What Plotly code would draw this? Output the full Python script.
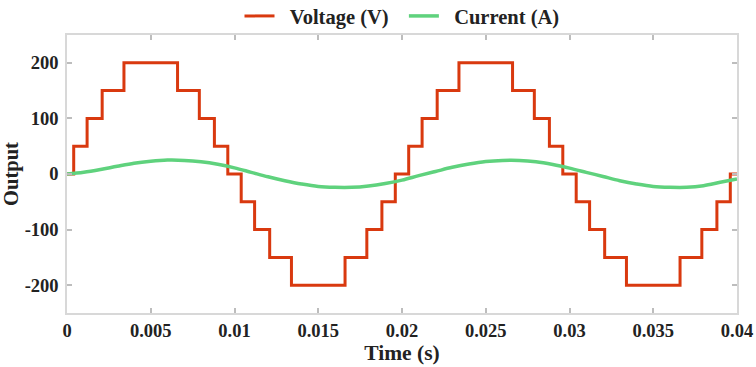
import plotly.graph_objects as go

# Voltage staircase: transition times (s) and levels (V)
volt_time = [0, 0.0004, 0.0012, 0.0021, 0.0034, 0.0066, 0.0079, 0.0088, 0.0096,
             0.0104, 0.0112, 0.0121, 0.0134, 0.0166, 0.0179, 0.0188, 0.0196,
             0.0204, 0.0212, 0.0221, 0.0234, 0.0266, 0.0279, 0.0288, 0.0296,
             0.0304, 0.0312, 0.0321, 0.0334, 0.0366, 0.0379, 0.0388, 0.0396, 0.04]
volt_level = [0, 50, 100, 150, 200, 150, 100, 50, 0,
              -50, -100, -150, -200, -150, -100, -50, 0,
              50, 100, 150, 200, 150, 100, 50, 0,
              -50, -100, -150, -200, -150, -100, -50, 0, 0]

# Current samples (A), read every 1 ms
curr_time = [i / 1000 for i in range(41)]
curr_value = [0, 3, 8, 14, 19.5, 23, 25, 24.5, 22, 17.5, 11,
              3, -5, -12, -18, -22.5, -24, -24, -21.5, -17, -11,
              -3, 4.5, 12, 18, 22.5, 24.5, 24.5, 22, 17, 10.5,
              3, -4.5, -12, -18, -22.5, -24, -24, -21, -15, -9]

x_ticks = [0, 0.005, 0.01, 0.015, 0.02, 0.025, 0.03, 0.035, 0.04]
x_tick_text = ["0", "0.005", "0.01", "0.015", "0.02", "0.025", "0.03", "0.035", "0.04"]
y_ticks = [-200, -100, 0, 100, 200]
y_tick_text = ["-200", "-100", "0", "100", "200"]

fig = go.Figure()
fig.add_trace(go.Scatter(x=volt_time, y=volt_level, mode="lines", line_shape="hv",
                         name="&nbsp;&nbsp;Voltage (V)&nbsp;&nbsp;",
                         line=dict(color="#d9390f", width=3)))
fig.add_trace(go.Scatter(x=curr_time, y=curr_value, mode="lines", line_shape="spline",
                         name="&nbsp;&nbsp;Current (A)",
                         line=dict(color="#5fd27d", width=3.5)))

font_family = "Liberation Serif"
axis_common = dict(showline=True, mirror="ticks", linecolor="#d8d8d8", linewidth=1.5,
                   ticks="inside", ticklen=5, tickcolor="#bdbdbd", tickwidth=1.5,
                   showgrid=False, zeroline=False,
                   tickfont=dict(family=font_family, size=18.5, color="#222222", weight="bold"))

fig.update_layout(
    width=756, height=367,
    margin=dict(l=67, r=19, t=35, b=54, autoexpand=False),
    paper_bgcolor="white", plot_bgcolor="white",
    font=dict(family=font_family, color="#222222"),
    legend=dict(orientation="h", x=0.5, xanchor="center", y=1.068, yanchor="middle",
                font=dict(family=font_family, size=20.5, color="#222222", weight="bold"),
                bgcolor="rgba(0,0,0,0)", itemwidth=30, tracegroupgap=0),
    xaxis=dict(range=[0, 0.04], tickvals=x_ticks, ticktext=x_tick_text,
               title=dict(text="<b>Time (s)</b>", font=dict(size=21.5), standoff=2),
               **axis_common),
    yaxis=dict(range=[-250, 250], tickvals=y_ticks, ticktext=y_tick_text,
               ticklabelstandoff=3,
               title=dict(text="<b>Output</b>", font=dict(size=20.5), standoff=2),
               **axis_common),
)

fig.write_html("out.html", config={"displayModeBar": False},
               post_script="document.body.style.margin='0';document.body.style.padding='0';")
